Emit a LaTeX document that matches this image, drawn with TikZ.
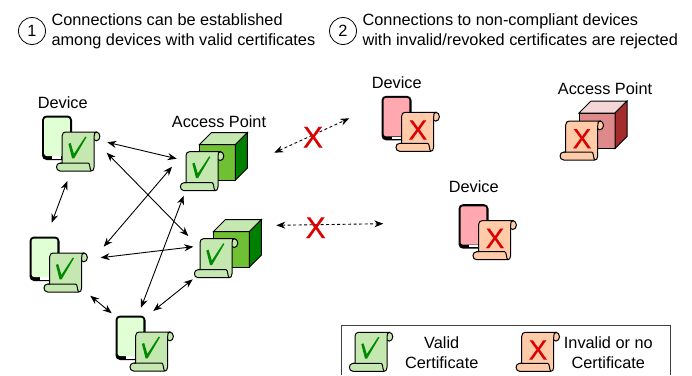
\documentclass[tikz,border=0pt]{standalone}
\usepackage{fontspec}
\setmainfont{Liberation Sans}
\newfontfamily\crossfont[FakeBold=0.5]{Liberation Sans}
\usepackage{tikz}
\usetikzlibrary{positioning,arrows.meta}
\definecolor{phonegreen}{RGB}{224,255,212}
\definecolor{certgreen}{RGB}{197,232,176}
\definecolor{tickgreen}{RGB}{0,138,0}
\definecolor{cubegreen}{RGB}{112,192,52}
\definecolor{sidegreen}{RGB}{0,128,0}
\definecolor{phonered}{RGB}{255,168,176}
\definecolor{certred}{RGB}{255,203,168}
\definecolor{crossred}{RGB}{221,0,0}
\definecolor{cubered}{RGB}{222,138,138}
\definecolor{topred}{RGB}{245,214,214}
\definecolor{sidered}{RGB}{163,44,44}
\tikzset{
  arista/.style={line width=1pt,black},
  link/.style={line width=0.9pt,{Stealth[length=9pt,width=7pt]}-{Stealth[length=9pt,width=7pt]}},
  badlink/.style={link,dash pattern=on 3pt off 2.5pt},
  textlbl/.style={font=\fontsize{16.3}{20}\selectfont,inner sep=0pt,align=center,text=black},
  numlbl/.style={textlbl,draw,circle,line width=0.8pt,minimum size=27pt},
  headlbl/.style={textlbl,align=left},
  crossmark/.style={font=\crossfont\fontsize{28}{28}\selectfont,text=crossred,inner sep=0pt},
  bigcross/.style={crossmark,font=\crossfont\fontsize{30}{30}\selectfont},
  pics/goodcert/.style={code={\certbody{certgreen}
    \fill[tickgreen] (6.3,11.8) -- (8.6,11) -- (11.8,21.8) -- (23.2,4.6) -- (24.4,5.2) -- (12,26.4) -- (10,26.4) -- cycle;}},
  pics/badcert/.style={code={\certbody{certred}
    \node[crossmark] (-x) at (16.3,17.7) {X};}},
  pics/gooddevice/.style={code={\phonebody{phonegreen}
    \pic (-cert) at (19.6,16) {goodcert};}},
  pics/baddevice/.style={code={\phonebody{phonered}
    \pic (-cert) at (19.6,16) {badcert};}},
  pics/goodap/.style={code={\cubebody{cubegreen}{certgreen}{sidegreen}
    \pic (-cert) at (-13.3,7) {goodcert};}},
  pics/badap/.style={code={\cubebody{cubered}{topred}{sidered}
    \pic (-cert) at (-13.3,8) {badcert};}},
}
\newcommand{\certbody}[1]{
  \draw[arista,fill=#1] (34.2,4.4) ellipse (3.6 and 4.4);
  \draw[arista,fill=#1] (0,31) -- (0,4) .. controls (0,1.5) and (1.5,0) .. (3.5,0) -- (34.2,0)
    .. controls (32.5,0) and (32,2) .. (32,5) -- (32,35) .. controls (32,38) and (30.5,39) .. (29,39)
    -- (-2,39) .. controls (-6.8,39) and (-6.8,31) .. (-2,31) -- cycle;
  \draw[arista] (-2,31) -- (26,31) .. controls (28,31) and (27.5,37) .. (29,39);
}
\newcommand{\phonebody}[1]{
  \fill[black,rounded corners=4.5pt] (-0.5,-0.5) rectangle (29.5,44);
  \fill[#1,rounded corners=2.5pt] (1.6,1.6) rectangle (27.4,40);
  \fill[white] (9.5,40.4) rectangle (18.5,42.6);
}
\newcommand{\cubebody}[3]{
  \draw[arista,fill=#1] (0,0) rectangle (36,35.5);
  \draw[arista,fill=#2] (0,0) -- (12,-12) -- (48,-12) -- (36,0) -- cycle;
  \draw[arista,fill=#3] (36,0) -- (48,-12) -- (48,23.5) -- (36,35.5) -- cycle;
}

\begin{document}
\begin{tikzpicture}[x=1pt,y=-1pt]
  \useasboundingbox (0,0) rectangle (692,375);

  % header
  \node[numlbl] (num1) at (32,31) {1};
  \node[headlbl, right=5.5pt of num1] (head1) {Connections can be established\\among devices with valid certificates};
  \node[numlbl] (num2) at (343,31) {2};
  \node[headlbl, right=5.5pt of num2] (head2) {Connections to non-compliant devices\\with invalid/revoked certificates are rejected};

  % compliant side
  \pic (dev1) at (42.5,116) {gooddevice};
  \pic (dev2) at (30,237) {gooddevice};
  \pic (dev3) at (116,316) {gooddevice};
  \pic (ap1) at (199.3,144.7) {goodap};
  \pic (ap2) at (213.3,231.7) {goodap};
  \node[textlbl] (devlbl1) at (62.7,102.5) {Device};
  \node[textlbl] (aplbl1) at (219,121.5) {Access Point};

  % rejected side
  \pic (dev4) at (382,96.3) {baddevice};
  \pic (dev5) at (459,204.7) {baddevice};
  \pic (ap3) at (579,113) {badap};
  \node[textlbl] (devlbl4) at (396.7,82.5) {Device};
  \node[textlbl] (devlbl5) at (473.7,186.5) {Device};
  \node[textlbl] (aplbl3) at (605,88.5) {Access Point};

  % connector ends
  \coordinate (dev1top1) at (107.3,142.3);
  \coordinate (ap1tod1) at (176.7,158.7);
  \coordinate (dev1top2) at (106.7,152.7);
  \coordinate (ap2tod1) at (188.3,236);
  \coordinate (dev1tod2) at (67.3,181);
  \coordinate (dev2tod1) at (51.7,222.7);
  \coordinate (ap1tod2) at (172,166.7);
  \coordinate (dev2top1) at (103.7,246.7);
  \coordinate (dev2top2) at (100.7,257.7);
  \coordinate (ap2tod2) at (193.3,246.7);
  \coordinate (ap1tod3) at (183.7,195.7);
  \coordinate (dev3top1) at (141,307.7);
  \coordinate (dev2tod3) at (90.3,295.7);
  \coordinate (dev3tod2) at (111.7,313.3);
  \coordinate (ap2tod3) at (192.7,279.3);
  \coordinate (dev3top2) at (153.3,311);
  \coordinate (rej1a) at (274.3,152.7);
  \coordinate (rej1b) at (349.3,118.3);
  \coordinate (rej2a) at (276.3,225.3);
  \coordinate (rej2b) at (383.3,223.7);

  \draw[link] (dev1top1) to (ap1tod1);
  \draw[link] (dev1top2) to (ap2tod1);
  \draw[link] (dev1tod2) to (dev2tod1);
  \draw[link] (ap1tod2) to (dev2top1);
  \draw[link] (dev2top2) to (ap2tod2);
  \draw[link] (ap1tod3) to (dev3top1);
  \draw[link] (dev2tod3) to (dev3tod2);
  \draw[link] (ap2tod3) to (dev3top2);
  \draw[badlink] (rej1a) to (rej1b);
  \draw[badlink] (rej2a) to (rej2b);
  \node[bigcross] (cross1) at (313,137.3) {X};
  \node[bigcross] (cross2) at (315.7,227.7) {X};

  % legend
  \draw[line width=0.8pt,black!75] (341.3,375) -- (341.3,325) -- (670.7,325) -- (670.7,375);
  \pic (legendgood) at (355,332.3) {goodcert};
  \pic (legendbad) at (521.7,332.3) {badcert};
  \node[textlbl] (legendlbl1) at (441.7,352.5) {Valid\\Certificate};
  \node[textlbl] (legendlbl2) at (608.3,352.5) {Invalid or no\\Certificate};
\end{tikzpicture}
\end{document}
